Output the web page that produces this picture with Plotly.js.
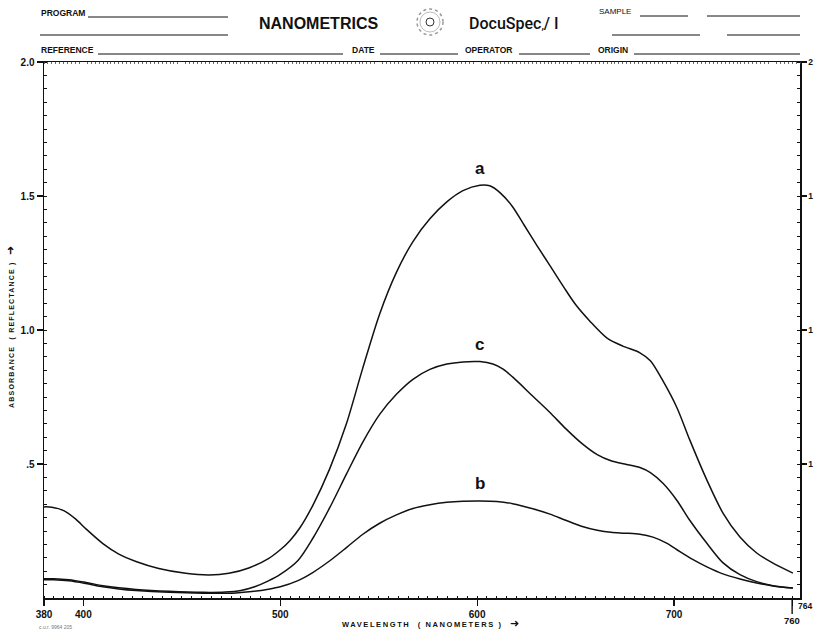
<!DOCTYPE html>
<html>
<head>
<meta charset="utf-8">
<script src="https://cdn.plot.ly/plotly-3.0.1.min.js"></script>
<style>
html,body{margin:0;padding:0;background:#fff;}
#chart{width:814px;height:634px;}
</style>
</head>
<body>
<div id="chart"></div>
<script>
// ---- data ----
const wavelengthA = [380,384,390,396,401.3,409.9,418,426.7,438.3,452,463.7,473.9,484,494.2,500,505,510,516.5,525,533.6,541.8,550.5,559,567.4,576,584.6,592.8,601.4,606.4,612,618,624,630.4,637,644,650,657.3,666,674,682.7,688,694.4,701.5,708,716.7,724.8,733.5,742,750.3,760.4];
const absorbanceA = [0.34,0.339,0.326,0.295,0.258,0.203,0.164,0.136,0.11,0.092,0.086,0.092,0.112,0.148,0.18,0.215,0.262,0.345,0.48,0.65,0.855,1.06,1.215,1.33,1.415,1.478,1.52,1.54,1.538,1.51,1.46,1.39,1.315,1.24,1.16,1.095,1.033,0.97,0.94,0.915,0.885,0.81,0.71,0.59,0.44,0.318,0.228,0.168,0.13,0.093];

const wavelengthB = [380,385,392.7,401.3,409.9,418,426.7,443.5,460.8,477.5,485.6,494,500,509,516.5,525,533.6,541.8,550.5,559,567.4,576,584.6,592.8,601.4,610,618,628.7,637,645,653,661,668,675,682.7,689.3,696.5,703,709.7,716.7,724.8,733.5,742,750.3,760.4];
const absorbanceB = [0.068,0.068,0.064,0.054,0.042,0.034,0.028,0.021,0.018,0.019,0.024,0.033,0.042,0.065,0.095,0.138,0.188,0.237,0.279,0.31,0.334,0.348,0.357,0.361,0.362,0.36,0.352,0.332,0.313,0.29,0.268,0.253,0.245,0.242,0.238,0.227,0.204,0.173,0.143,0.116,0.09,0.071,0.056,0.045,0.037];

const wavelengthC = [380,385,392.7,401.3,409.9,418,426.7,443.5,460.8,472,480,487,494,500,509,516.5,525,533.6,541.8,550.5,559,567.4,576,584.6,592.8,601.4,608,613,618,628.7,637,645,653,661,668,675,682.7,688,694.4,701.5,708,716.7,724.8,733.5,742,750.3,760.4];
const absorbanceC = [0.072,0.072,0.068,0.058,0.046,0.038,0.032,0.025,0.021,0.022,0.028,0.042,0.064,0.088,0.14,0.222,0.335,0.462,0.58,0.685,0.76,0.816,0.853,0.873,0.881,0.882,0.873,0.855,0.825,0.75,0.692,0.632,0.578,0.535,0.512,0.5,0.487,0.468,0.428,0.364,0.29,0.204,0.132,0.087,0.061,0.046,0.037];

const curveNames = ['a','b','c'];
const xTickVals = [380,400,500,600,700,760];
const xTickText = ['380','400','500','600','700',''];
const yTickVals = [0.5,1.0,1.5,2.0];
const yTickTextLeft = ['.5','1.0','1.5','2.0'];
const yTickTextRight = ['1','1','1','2'];

// ---- layout helpers (pixel -> paper) ----
const L = 44, R = 14, T = 62, B = 36, W = 814, H = 634;
const PW = W - L - R, PH = H - T - B;
const P = px => (px - L) / PW;
const Q = py => (H - B - py) / PH;

const FONT = 'Liberation Sans, Arial, sans-serif';
const ink = '#111';

const series = [[wavelengthA, absorbanceA],[wavelengthB, absorbanceB],[wavelengthC, absorbanceC]];
const traces = series.map((s, i) => ({
  x: s[0], y: s[1], name: curveNames[i], type: 'scatter', mode: 'lines',
  line: {color: ink, width: 1.5, shape: 'spline', smoothing: 0.8},
  hoverinfo: 'skip', showlegend: false
}));
// dummy trace for right axis
traces.push({x: [380], y: [0], xaxis: 'x2', yaxis: 'y2', mode: 'markers', marker: {opacity: 0}, showlegend: false, hoverinfo: 'skip'});

const ann = [];
const txt = (text, px, py, size, opts = {}) => ann.push(Object.assign({
  text, xref: 'paper', yref: 'paper', x: P(px), y: Q(py), showarrow: false,
  xanchor: 'left', yanchor: 'middle', font: {family: FONT, size, color: ink}
}, opts));

// header
txt('<b>PROGRAM</b>', 39, 13, 8.5);
txt('<b>NANOMETRICS</b>', 257, 23, 16);
txt('DocuSpec<span style="font-size:11px">,</span>/ I', 467, 23, 16,
    {font: {family: 'Roboto, Arial, sans-serif', size: 16, color: ink, weight: 500}});
txt('SAMPLE', 597, 11, 8);
txt('<b>REFERENCE</b>', 39, 50, 8.5);
txt('<b>DATE</b>', 350, 50, 8.5);
txt('<b>OPERATOR</b>', 463, 50, 8.5);
txt('<b>ORIGIN</b>', 596, 50, 8.5);

// axis titles and labels
txt('<b><span style="letter-spacing:1.6px">WAVELENGTH  ( NANOMETERS )  </span></b><span style="font-size:11px">➜</span>', 340, 623, 7.5);
txt('<b><span style="letter-spacing:1.2px">ABSORBANCE  ( REFLECTANCE )  </span></b><span style="font-size:11px">➜</span>', 10, 327, 7, {xanchor: 'center', textangle: -90});
txt('c.u.r. 9964 205', 37, 627, 5, {font: {family: FONT, size: 5, color: '#777'}});
ann.push({text: '<b>760</b>', xref: 'x', yref: 'paper', x: 760, y: Q(620), showarrow: false, xanchor: 'center', yanchor: 'middle', font: {family: FONT, size: 9.5, color: ink}});
txt('<b>764</b>', 796, 606, 8.5);

// curve letters at each curve's maximum
series.forEach((s, i) => {
  const ys = s[1]; let k = 0;
  ys.forEach((v, j) => { if (v > ys[k]) k = j; });
  ann.push({text: '<b>' + curveNames[i] + '</b>', x: s[0][k], y: ys[k], xref: 'x', yref: 'y',
    showarrow: false, yshift: 17, xanchor: 'center', yanchor: 'middle',
    font: {family: FONT, size: 17, color: ink}});
});

const line = (x0, y0, x1, y1, w = 1) => ({type: 'line', xref: 'paper', yref: 'paper', x0: P(x0), y0: Q(y0), x1: P(x1), y1: Q(y1), line: {color: ink, width: w}});
const shapes = [
  line(88, 17, 228, 17), line(40, 35, 228, 35),
  line(640, 16, 688, 16), line(707, 16, 800, 16),
  line(612, 35, 700, 35), line(727, 35, 800, 35),
  line(98, 54, 343, 54), line(380, 54, 458, 54),
  line(519, 54, 590, 54), line(634, 54, 800, 54),
  {type: 'line', xref: 'x', yref: 'paper', x0: 760, x1: 760, y0: 0, y1: Q(614), line: {color: ink, width: 1.4}},
  {type: 'circle', xref: 'paper', yref: 'paper', x0: P(417), x1: P(443), y0: Q(35), y1: Q(9), line: {color: '#999', width: 1.5, dash: 'dot'}},
  {type: 'circle', xref: 'paper', yref: 'paper', x0: P(420), x1: P(440), y0: Q(32), y1: Q(12), line: {color: '#aaa', width: 0.8}},
  {type: 'circle', xref: 'paper', yref: 'paper', x0: P(426), x1: P(434), y0: Q(26), y1: Q(18), line: {color: '#333', width: 1}}
];

const tickFont = {family: FONT, size: 10, color: ink, weight: 'bold'};
const layout = {
  width: W, height: H,
  margin: {l: L, r: R, t: T, b: B, pad: 0},
  paper_bgcolor: '#fff', plot_bgcolor: '#fff',
  showlegend: false,
  xaxis: {
    range: [380, 764], showgrid: false, zeroline: false,
    showline: true, linecolor: ink, linewidth: 1.5, mirror: true,
    ticks: 'outside', ticklen: 6, tickwidth: 1.2, tickcolor: ink,
    tickvals: xTickVals, ticktext: xTickText, tickfont: tickFont,
    minor: {ticks: 'inside', dtick: 5, ticklen: 2, tickcolor: ink, tickwidth: 1}
  },
  xaxis2: {
    range: [380, 764], overlaying: 'x', side: 'top', anchor: 'y',
    showgrid: false, zeroline: false, showline: false, showticklabels: false,
    ticks: '', minor: {ticks: 'inside', dtick: 2, ticklen: 2, tickcolor: '#444', tickwidth: 0.8}
  },
  yaxis: {
    range: [0, 2], showgrid: false, zeroline: false,
    showline: true, linecolor: ink, linewidth: 1.5,
    ticks: 'outside', ticklen: 6, tickwidth: 1.2, tickcolor: ink,
    tickvals: yTickVals, ticktext: yTickTextLeft, tickfont: tickFont,
    minor: {ticks: 'inside', dtick: 0.05, ticklen: 3, tickcolor: ink, tickwidth: 1}
  },
  yaxis2: {
    range: [0, 2], overlaying: 'y', side: 'right', anchor: 'x',
    showgrid: false, zeroline: false,
    showline: true, linecolor: ink, linewidth: 1.5,
    ticks: 'outside', ticklen: 5, tickwidth: 1.2, tickcolor: ink,
    tickvals: yTickVals, ticktext: yTickTextRight, tickfont: {family: FONT, size: 8.5, color: ink, weight: 'bold'},
    minor: {ticks: 'inside', dtick: 0.05, ticklen: 3, tickcolor: ink, tickwidth: 1}
  },
  annotations: ann,
  shapes: shapes
};

Plotly.newPlot('chart', traces, layout, {staticPlot: true, displayModeBar: false});
</script>
</body>
</html>
